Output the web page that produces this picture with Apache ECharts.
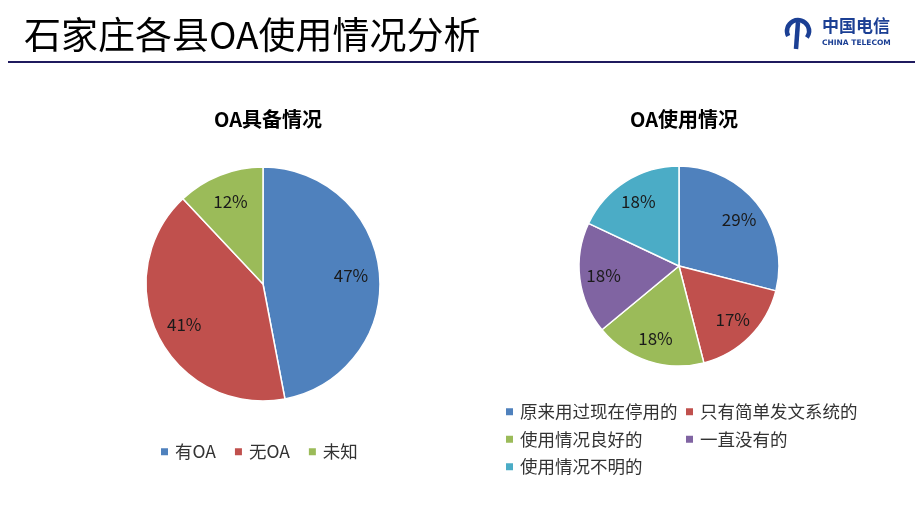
<!DOCTYPE html>
<html>
<head>
<meta charset="utf-8">
<script src="https://cdn.jsdelivr.net/npm/echarts@6/dist/echarts.min.js"></script>
<style>html,body{margin:0;background:#fff}#chart{width:920px;height:517px}</style>
</head>
<body>
<div id="chart"></div>
<script>
// 数据
const pageTitle = '石家庄各县OA使用情况分析';
const readyTitle = 'OA具备情况';
const readyNames = ['有OA', '无OA', '未知'];
const readyValues = [47, 41, 12];
const useTitle = 'OA使用情况';
const useNames = ['原来用过现在停用的', '只有简单发文系统的', '使用情况良好的', '一直没有的', '使用情况不明的'];
const useValues = [29, 17, 18, 18, 18];
const colors = ['#4F81BD', '#C0504D', '#9BBB59', '#8064A2', '#4BACC6'];

const font = '"Noto Sans CJK SC", "Noto Sans", sans-serif';

function toData(names, values) {
  return names.map((n, i) => ({ name: n, value: values[i], itemStyle: { color: colors[i] } }));
}

// 饼图本体 + 透明标签层（标签放在约 0.74 半径处）
function pieSeries(names, values, center, r) {
  return [
    {
      type: 'pie', center, radius: r, startAngle: 90, clockwise: true,
      data: toData(names, values),
      label: { show: false }, labelLine: { show: false },
      itemStyle: { borderColor: '#fff', borderWidth: 1.5 },
      emphasis: { disabled: true }, animation: false
    },
    {
      type: 'pie', center, radius: [r * 0.46, r], startAngle: 90, clockwise: true,
      data: names.map((n, i) => ({ name: n + ' ', value: values[i] })),
      itemStyle: { color: 'rgba(0,0,0,0)' },
      label: { show: true, position: 'inside', formatter: '{c}%', fontSize: 17, color: '#1a1a1a', fontFamily: font },
      labelLine: { show: false }, silent: true, legendHoverLink: false,
      emphasis: { disabled: true }, animation: false
    }
  ];
}

const legendBase = {
  icon: 'rect', itemWidth: 7, itemHeight: 7, itemGap: 19, itemStyle: { borderWidth: 0 },
  textStyle: { fontSize: 17.5, color: '#333', fontFamily: font, padding: [0, 0, 0, 2] },
  selectedMode: false
};

const chart = echarts.init(document.getElementById('chart'), null, { renderer: 'canvas' });
chart.setOption({
  backgroundColor: '#fff',
  animation: false,
  title: [
    { text: pageTitle, left: 19, top: 11, textStyle: { fontSize: 37, fontWeight: 'normal', color: '#000', fontFamily: font } },
    { text: readyTitle, left: 263, top: 104, textAlign: 'center', textStyle: { fontSize: 20, fontWeight: 'bold', color: '#000', fontFamily: font } },
    { text: useTitle, left: 679, top: 104, textAlign: 'center', textStyle: { fontSize: 20, fontWeight: 'bold', color: '#000', fontFamily: font } }
  ],
  legend: [
    Object.assign({}, legendBase, { data: readyNames, left: 156, top: 438, orient: 'horizontal' }),
    Object.assign({}, legendBase, { data: [useNames[0], useNames[2], useNames[4]], left: 501, top: 398, orient: 'vertical', itemGap: 10 }),
    Object.assign({}, legendBase, { data: [useNames[1], useNames[3]], left: 681, top: 398, orient: 'vertical', itemGap: 10 })
  ],
  series: [
    ...pieSeries(readyNames, readyValues, [263, 284], 117),
    ...pieSeries(useNames, useValues, [679, 266], 100)
  ],
  graphic: [
    // 标题下分隔线
    { type: 'rect', shape: { x: 8, y: 61, width: 907, height: 2 }, style: { fill: '#1F1A5E' } },
    // 中国电信 标志（近似）
    { type: 'arc', shape: { cx: 798, cy: 31, r: 11, startAngle: Math.PI * 0.85, endAngle: Math.PI * 2.2 },
      style: { stroke: '#1B3F94', lineWidth: 4.5, fill: null } },
    { type: 'line', shape: { x1: 798, y1: 22, x2: 796, y2: 49 }, style: { stroke: '#1B3F94', lineWidth: 4.5 } },
    { type: 'text', left: 822, top: 17, style: { text: '中国电信', font: 'bold 17px ' + font, fill: '#1B3F94' } },
    { type: 'text', left: 822, top: 39, style: { text: 'CHINA TELECOM', font: 'bold 7.5px "DejaVu Sans", sans-serif', fill: '#1B3F94' } }
  ]
});
</script>
</body>
</html>
